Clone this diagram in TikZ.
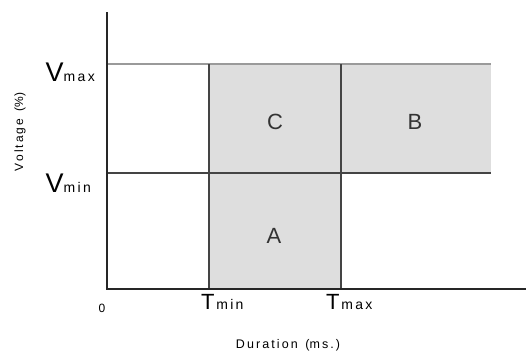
\documentclass[tikz,border=0pt]{standalone}
\usepackage{fontspec}
\setmainfont{Liberation Sans}
\definecolor{zonegrey}{HTML}{DEDEDE}
\definecolor{gline}{HTML}{9A9A9A}
\definecolor{dline}{HTML}{444444}
\begin{document}
\begin{tikzpicture}[x=1pt,y=-1pt,
  axisline/.style={draw=black!85,line width=2pt},
  greyline/.style={draw=gline,line width=2.6pt},
  darkline/.style={draw=dline,line width=2pt},
  zone/.style={font=\fontsize{22}{22}\selectfont,text=black!80},
  ticklab/.style={font=\fontsize{12}{12}\selectfont}]
\useasboundingbox (0,0) rectangle (526,354);
% shaded regions
\fill[zonegrey] (209,64) rectangle (491,173);
\fill[zonegrey] (209,173) rectangle (341,289);
% coordinates
\coordinate (o) at (107,289);
\coordinate (ytop) at (107,12);
\coordinate (xend) at (526,289);
\coordinate (vmaxL) at (108,64);
\coordinate (vmaxR) at (491,64);
\coordinate (vminL) at (108,173);
\coordinate (vminR) at (491,173);
\coordinate (tminT) at (209,64);
\coordinate (tminB) at (209,289);
\coordinate (tmaxT) at (341,64);
\coordinate (tmaxB) at (341,289);
% lines
\draw[greyline] (vmaxL) -- (vmaxR);
\draw[darkline] (vminL) -- (vminR);
\draw[darkline] (tminT) -- (tminB);
\draw[darkline] (tmaxT) -- (tmaxB);
\draw[axisline] (ytop) -- (o) -- (xend);
% zone labels
\node[zone] (C) at (275,122) {C};
\node[zone] (B) at (415,122) {B};
\node[zone] (A) at (274,236) {A};
% axis labels
\node[anchor=base east,inner sep=0] (vmax) at (95,81) {{\fontsize{27}{27}\selectfont V}{\fontsize{14}{14}\selectfont m\,a\,x}};
\node[anchor=base east,inner sep=0] (vmin) at (91,192) {{\fontsize{27}{27}\selectfont V}{\fontsize{14}{14}\selectfont m\,i\,n}};
\node[ticklab,anchor=base,inner sep=0] (zero) at (102,312) {0};
\node[anchor=base west,inner sep=0] (tmin) at (201,309) {{\fontsize{22}{22}\selectfont T}\,{\fontsize{14}{14}\selectfont m\,i\,n}};
\node[anchor=base west,inner sep=0] (tmax) at (326,309) {{\fontsize{22}{22}\selectfont T}\,{\fontsize{14}{14}\selectfont m\,a\,x}};
\node[font=\fontsize{12.5}{12.5}\selectfont] (dur) at (288,345) {D\,u\,r\,a\,t\,i\,o\,n\, \,(m\,s\,.\,)};
\node[font=\fontsize{12}{12}\selectfont,rotate=90] (volt) at (20,132) {V\,o\,l\,t\,a\,g\,e\, \,(\%)};
\end{tikzpicture}
\end{document}
